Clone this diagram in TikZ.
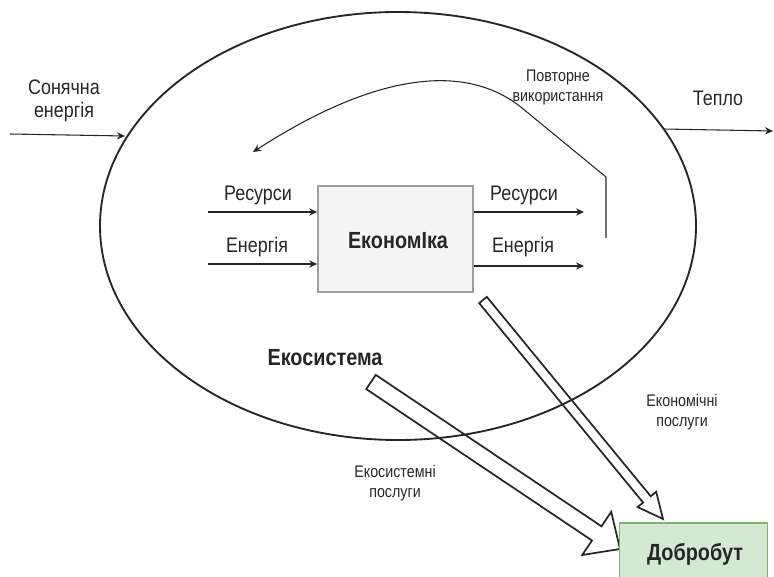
\documentclass[tikz,border=0pt]{standalone}
\usepackage{fontspec}
\setmainfont{Liberation Sans}[FakeStretch=0.85]
\usetikzlibrary{positioning,arrows.meta,calc}
\definecolor{txt}{HTML}{262626}
\definecolor{econfill}{HTML}{F5F5F5}
\definecolor{econline}{HTML}{9E9E9E}
\definecolor{wbfill}{HTML}{D5E8D4}
\definecolor{wbline}{HTML}{82B366}

% hollow block arrow: from, to, shaft half width, head half width, head length
\newcommand\blockarrow[5]{%
  \draw[hollow] let \p1=($(#2)-(#1)$), \n1={atan2(\y1,\x1)}, \n2={veclen(\x1,\y1)} in
    {[shift={(#1)},rotate=\n1] (0pt,-#3) -- (\n2-#5,-#3) -- (\n2-#5,-#4) -- (\n2,0pt)
      -- (\n2-#5,#4) -- (\n2-#5,#3) -- (0pt,#3) -- cycle};}

\begin{document}
\begin{tikzpicture}[x=0.75pt,y=-0.75pt,
  lbl/.style={font=\fontsize{15.8}{17.5}\selectfont, text=txt, align=center, inner sep=0pt},
  small/.style={lbl, font=\fontsize{12.6}{15}\selectfont},
  title/.style={lbl, font=\bfseries\fontsize{17.5}{18}\selectfont},
  flow/.style={-{Stealth[length=6pt,width=5.5pt]}, line width=0.8pt, draw=txt},
  hollow/.style={line width=1.3pt, draw=txt, line join=miter},
  econbox/.style={draw=econline, fill=econfill, line width=1.5pt, minimum width=116pt, minimum height=79pt},
  wbbox/.style={draw=wbline, fill=wbfill, line width=1.1pt, minimum width=111pt, minimum height=60pt}
]
\useasboundingbox (0,0) rectangle (774,577);
\clip (0,0) rectangle (774,577);

\draw[txt, line width=1.4pt] (398,226) ellipse [x radius=298, y radius=214];

\node[econbox] (econ) at (395.5,239) {};
\node[title] at (398,241) {ЕкономІка};

\coordinate (rin) at (208,212);
\coordinate (ein) at (208,264);
\coordinate (rout) at (584,212);
\coordinate (eout) at (584,266);
\draw[flow] (rin) -- (rin -| econ.west);
\draw[flow] (ein) -- (ein -| econ.west);
\draw[flow] (rout -| econ.east) -- (rout);
\draw[flow] (eout -| econ.east) -- (eout);
\node[lbl] at (258,195) {Ресурси};
\node[lbl] at (257,247) {Енергія};
\node[lbl] at (524,195) {Ресурси};
\node[lbl] at (523,247) {Енергія};

\coordinate (reuse) at (606,238);
\coordinate (reuseend) at (253,152);
\draw[flow] (reuse) -- (606,177) -- (522,108) .. controls (468,64) and (380,70) .. (reuseend);
\node[small] (reuselbl) at (558,87) {Повторне\\використання};

\coordinate (sun) at (10,134);
\coordinate (sunin) at (125,136);
\draw[flow] (sun) -- (sunin);
\node[lbl] at (64,101) {Сонячна\\енергія};

\coordinate (heat) at (663,129);
\coordinate (heatout) at (773,131);
\draw[flow] (heat) -- (heatout);
\node[lbl] at (718,98) {Тепло};

\node[title] (eco) at (325,358) {Екосистема};

\coordinate (esA) at (371,382);
\coordinate (esB) at (620,549);
\coordinate (ecA) at (483,300);
\coordinate (ecB) at (663,519);
\blockarrow{esA}{esB}{6.4pt}{19.5pt}{21pt}
\blockarrow{ecA}{ecB}{3.7pt}{9pt}{19pt}
\node[small] at (395,483) {Екосистемні\\послуги};
\node[small] at (682,412) {Економічні\\послуги};

\node[wbbox] (wb) at (693.5,563) {};
\node[title] at (695,554) {Добробут};
\end{tikzpicture}
\end{document}
